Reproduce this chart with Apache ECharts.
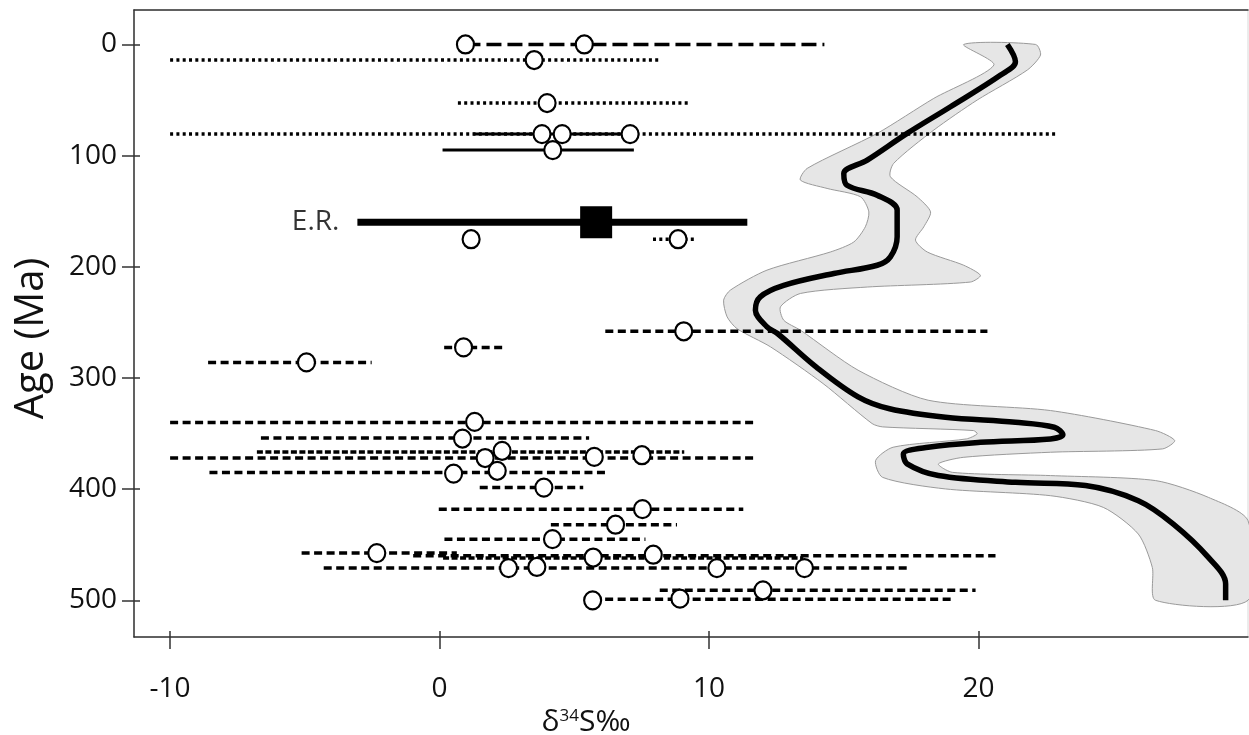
<!DOCTYPE html>
<html>
<head>
<meta charset="utf-8">
<script src="https://cdn.jsdelivr.net/npm/echarts@6/dist/echarts.min.js"></script>
<style>
html,body{margin:0;padding:0;background:#fff;}
#chart{width:1249px;height:735px;}
</style>
</head>
<body>
<div id="chart"></div>
<script>
// ---- tick labels ----
const xTickValues = [-10, 0, 10, 20];
const yTickValues = [0, 100, 200, 300, 400, 500];

// ---- error bars: [low, high, age] ----
const longDashBars = [[0.96, 14.28, 0]];
const dottedBars = [[-10.0, 8.14, 14], [0.68, 9.27, 52.7], [-10.0, 22.86, 80.6], [7.92, 9.49, 175.2]];
const solidBars = [[1.25, 7.07, 80.6], [0.11, 7.21, 95]];
const dashedBars = [
  [6.15, 20.33, 258], [0.17, 2.45, 272.5], [-8.59, -2.52, 286],
  [-10.0, 11.65, 340], [-6.63, 5.55, 354], [-10.0, 11.72, 372], [-8.54, 6.29, 385],
  [1.49, 5.33, 398.6], [-0.03, 11.27, 418], [4.13, 8.81, 432], [0.18, 7.64, 445],
  [-5.12, 0.64, 457.5], [-0.98, 20.63, 460], [-4.3, 17.34, 471], [8.17, 19.89, 491],
  [5.68, 19.05, 499]
];
const denseBars = [[-6.78, 9.08, 366.5], [0.13, 13.5, 462]];

// ---- sample points: [δ34S, age] ----
const samples = [
  [0.96, 0], [5.37, 0], [3.51, 14], [3.99, 52.7], [3.80, 80.6], [4.55, 80.6], [7.07, 80.6], [4.20, 95],
  [1.17, 175.2], [8.85, 175.2],
  [9.06, 258], [0.89, 272.5], [-4.94, 286],
  [1.30, 339.5], [0.85, 354.5], [2.32, 365.5], [1.69, 372], [5.74, 371], [7.51, 369.5],
  [0.52, 386], [2.14, 383.5], [3.87, 398.6],
  [7.53, 418], [6.53, 432], [4.19, 445],
  [-2.33, 457.5], [5.70, 461.5], [7.93, 459],
  [2.56, 471], [3.61, 470], [10.29, 471], [13.54, 471],
  [12.0, 491], [5.68, 500], [8.92, 498.5]
];

// ---- E.R. estimate ----
const erBar = [[-3.05, 11.42, 160]];
const erPoint = [[5.81, 160]];

// ---- mean curve: [δ34S, age] ----
const meanCurve = [
  [21.07, 0], [21.37, 15.5], [20.82, 27.5], [18.96, 56], [17.35, 80], [15.87, 104], [15.0, 116],
  [15.12, 126.6], [16.24, 135.6], [16.98, 149], [16.98, 173], [16.73, 191], [16.24, 198.6],
  [14.63, 206], [12.77, 216.7], [11.9, 227], [11.72, 239], [12.15, 254], [12.54, 260],
  [13.97, 290], [15.53, 317], [16.7, 327.7], [18.77, 335.3], [21.37, 339.8], [22.81, 344.3],
  [23.13, 351], [22.67, 354.8], [20.07, 357.8], [18.13, 362.3], [17.21, 368.3], [17.35, 377.3],
  [18.51, 387.8], [21.37, 393.9], [23.97, 396.8], [25.93, 410.4], [27.23, 431.4],
  [28.53, 461.4], [29.17, 485.4], [29.17, 500]
];

// ---- confidence band edges: [δ34S, age] ----
const bandLeft = [
  [19.45, 0], [20.57, 18.5], [18.34, 48.5], [16.24, 80], [13.64, 111.5], [13.39, 122], [14.38, 129.5],
  [15.62, 137], [15.93, 150.6], [15.8, 164], [15.37, 177.7], [14.5, 186.7], [12.15, 203],
  [10.79, 221], [10.54, 230], [10.67, 245], [11.04, 255.7], [12.28, 272], [14.23, 305],
  [16.05, 341], [16.44, 344], [19.81, 347.3], [19.95, 350.3], [19.55, 354.8], [16.83, 362.3],
  [16.18, 374.3], [16.44, 389.4], [18.77, 399.8], [22.67, 405.9], [24.63, 416.4],
  [25.93, 440.4], [26.45, 470.5], [26.57, 500]
];
const bandRight = [
  [22.12, 0], [22.3, 9.5], [21.81, 23], [19.95, 50], [18.34, 77], [16.85, 107], [16.73, 119],
  [17.72, 137], [18.22, 150.6], [17.97, 164], [17.66, 176], [18.1, 186.7], [19.45, 198.6],
  [20.07, 207.7], [19.7, 213.7], [15.87, 218.2], [13.39, 224], [12.65, 236], [12.77, 248],
  [13.39, 257], [15.53, 293], [18.13, 320], [22.67, 329.3], [26.57, 347.3], [27.28, 356.3],
  [26.83, 363.8], [22.67, 366.8], [19.43, 371.4], [18.51, 377.3], [19.03, 384.9],
  [22.67, 387.8], [26.57, 392.3], [28.53, 407.4], [30, 428.4], [30, 500]
];

const FONT = 'Open Sans';
const bandPolygon = bandLeft.concat(bandRight.slice().reverse());

function barSeries(name, data, lineWidth, dash, z) {
  return {
    name: name, type: 'custom', z: z, silent: true,
    encode: {x: [0, 1], y: 2},
    data: data,
    renderItem: function (params, api) {
      const p1 = api.coord([api.value(0), api.value(2)]);
      const p2 = api.coord([api.value(1), api.value(2)]);
      return {
        type: 'line',
        shape: {x1: p1[0], y1: p1[1], x2: p2[0], y2: p2[1]},
        style: {stroke: '#000', lineWidth: lineWidth, lineDash: dash, fill: null}
      };
    }
  };
}

const XMIN = -11.34, XMAX = 30, YMIN = -31, YMAX = 533;
const axisColor = '#333';

const chart = echarts.init(document.getElementById('chart'), null, {renderer: 'canvas'});
chart.setOption({
  animation: false,
  backgroundColor: '#ffffff',
  grid: {left: 134, right: 1, top: 10, bottom: 98, containLabel: false, outerBoundsMode: 'none',
         show: true, borderColor: '#d8d8d8', borderWidth: 1},
  xAxis: [{
    type: 'value', min: XMIN, max: XMAX,
    name: '{a|δ}{s|34}{a|S‰}', nameLocation: 'middle', nameGap: 62,
    nameTextStyle: {padding: [0, 210, 0, 0], rich: {
      a: {fontFamily: FONT, fontSize: 30, color: '#111'},
      s: {fontFamily: FONT, fontSize: 17, color: '#111', verticalAlign: 'top', padding: [0, 0, 12, 0]}
    }},
    axisLine: {show: true, onZero: false, lineStyle: {color: axisColor, width: 1.5}},
    axisTick: {show: true, customValues: xTickValues, length: 12, lineStyle: {color: axisColor, width: 1.5}},
    axisLabel: {show: true, customValues: xTickValues, margin: 38, fontFamily: FONT, fontSize: 28, color: '#111'},
    splitLine: {show: false}
  }, {
    type: 'value', min: XMIN, max: XMAX, position: 'top',
    axisLine: {show: true, onZero: false, lineStyle: {color: axisColor, width: 1.5}},
    axisTick: {show: false}, axisLabel: {show: false}, splitLine: {show: false}
  }, {
    type: 'value', min: XMIN, max: XMAX, position: 'bottom',
    axisLine: {show: false, onZero: false},
    axisTick: {show: true, inside: true, customValues: xTickValues, length: 6, lineStyle: {color: axisColor, width: 1.5}},
    axisLabel: {show: false}, splitLine: {show: false}
  }],
  yAxis: [{
    type: 'value', inverse: true, min: YMIN, max: YMAX,
    name: 'Age (Ma)', nameLocation: 'middle', nameGap: 82, nameRotate: 90,
    nameTextStyle: {fontFamily: FONT, fontSize: 40, color: '#111', padding: [0, 30, 0, 0]},
    axisLine: {show: true, onZero: false, lineStyle: {color: axisColor, width: 1.5}},
    axisTick: {show: true, customValues: yTickValues, length: 12, lineStyle: {color: axisColor, width: 1.5}},
    axisLabel: {show: true, customValues: yTickValues, margin: 17, fontFamily: FONT, fontSize: 28, color: '#111'},
    splitLine: {show: false}
  }, {
    type: 'value', inverse: true, min: YMIN, max: YMAX, position: 'left',
    axisLine: {show: false, onZero: false},
    axisTick: {show: true, inside: true, customValues: yTickValues, length: 6, lineStyle: {color: axisColor, width: 1.5}},
    axisLabel: {show: false}, splitLine: {show: false}
  }],
  series: [
    {
      name: 'band', type: 'custom', z: 1, silent: true,
      encode: {x: 0, y: 1},
      data: bandPolygon,
      renderItem: function (params, api) {
        if (params.dataIndex !== 0) return null;
        const pts = bandPolygon.map(function (d) { return api.coord(d); });
        return {
          type: 'polygon',
          shape: {points: pts, smooth: 0.25},
          style: {fill: '#e6e6e6', stroke: '#9a9a9a', lineWidth: 1}
        };
      }
    },
    {
      name: 'mean', type: 'line', z: 2, silent: true,
      data: meanCurve, smooth: 0.35, showSymbol: false, symbol: 'none',
      lineStyle: {color: '#000', width: 5.5}
    },
    barSeries('longdash', longDashBars, 3.5, [15, 6], 3),
    barSeries('dotted', dottedBars, 3.5, [3, 3.3], 3),
    barSeries('solid', solidBars, 3, null, 3),
    barSeries('dashed', dashedBars, 3.5, [8, 4.5], 3),
    barSeries('dense', denseBars, 3.5, [6, 2.5], 3),
    barSeries('er', erBar, 7, null, 4),
    {
      name: 'samples', type: 'scatter', z: 5, silent: true,
      data: samples, symbol: 'circle', symbolSize: [17, 18],
      itemStyle: {color: '#fff', borderColor: '#000', borderWidth: 2.2, opacity: 1}
    },
    {
      name: 'ER', type: 'scatter', z: 6, silent: true,
      data: erPoint, symbol: 'rect', symbolSize: 32,
      itemStyle: {color: '#000', opacity: 1}
    },
    {
      name: 'ERlabel', type: 'scatter', z: 6, silent: true,
      data: [[erBar[0][0], erBar[0][2]]], symbolSize: 0,
      label: {show: true, position: 'left', distance: 18, formatter: 'E.R.', fontFamily: FONT, fontSize: 28, color: '#000'}
    }
  ]
});
</script>
</body>
</html>
